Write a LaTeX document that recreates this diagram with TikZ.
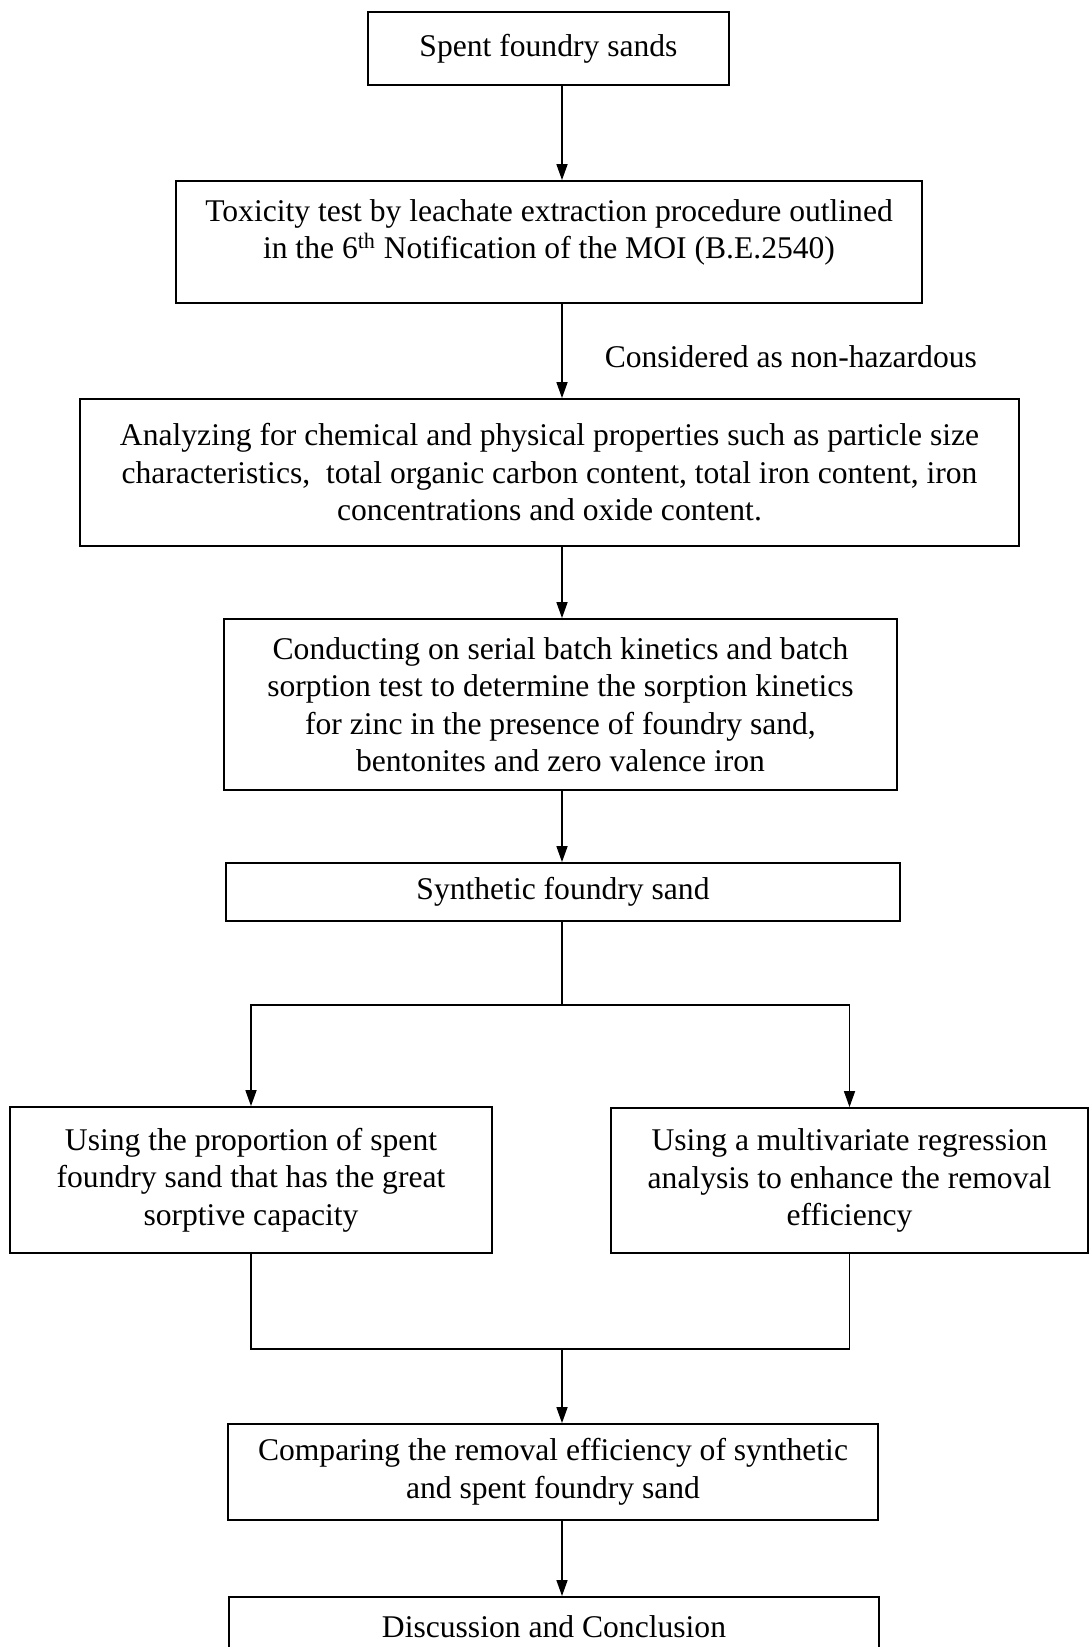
\documentclass[tikz,border=0pt]{standalone}
\usepackage{fontspec}
\setmainfont{Liberation Serif}
\usetikzlibrary{arrows.meta}
\newcommand{\boxfont}{\fontsize{15.8pt}{18.75pt}\selectfont}
\tikzset{
    box/.style={draw, line width=0.9pt, align=center, inner sep=0pt, font=\boxfont},
    >={Triangle[length=8pt,width=5.5pt]},
}
\begin{document}
\begin{tikzpicture}[x=0.5pt, y=-0.5pt, line width=0.8pt]
    \useasboundingbox (0,0) rectangle (1089,1647);
    \clip (0,0) rectangle (1089,1647);
    \coordinate (spine) at (562,0);
    \node[box, minimum width=180.5pt, minimum height=36.5pt] (spent) at (548.5,48.5) {Spent foundry sands};
    \node[box, minimum width=373pt, minimum height=61pt] (toxic) at (549,242) {Toxicity test by leachate extraction procedure outlined\\in the 6\textsuperscript{th} Notification of the MOI (B.E.2540)\\[-6pt]};
    \node[box, minimum width=469.5pt, minimum height=73.5pt] (props) at (549.5,472.5) {Analyzing for chemical and physical properties such as particle size\\characteristics,\ \ total organic carbon content, total iron content, iron\\concentrations and oxide content.};
    \node[box, minimum width=336.5pt, minimum height=85.5pt] (kinet) at (560.5,704.5) {Conducting on serial batch kinetics and batch\\sorption test to determine the sorption kinetics\\for zinc in the presence of foundry sand,\\bentonites and zero valence iron};
    \node[box, minimum width=337pt, minimum height=29pt] (synth) at (563,892) {Synthetic foundry sand};
    \node[box, minimum width=241pt, minimum height=73pt] (propn) at (251,1180) {Using the proportion of spent\\foundry sand that has the great\\sorptive capacity};
    \node[box, minimum width=238.5pt, minimum height=72.5pt] (regr) at (849.5,1180.5) {Using a multivariate regression\\analysis to enhance the removal\\efficiency};
    \node[box, minimum width=325pt, minimum height=48pt] (comp) at (553,1472) {Comparing the removal efficiency of synthetic\\and spent foundry sand};
    \node[box, minimum width=325pt, minimum height=30pt, anchor=north] (concl) at (554,1596) {Discussion and Conclusion};
    \node[font=\boxfont, anchor=west, inner sep=0pt] (nonhaz) at (604,357) {Considered as non-hazardous};
    \coordinate (split) at (562,1005);
    \coordinate (merge) at (562,1349);
    % main line
    \draw[->] (spent.south -| spine) -- (toxic.north -| spine);
    \draw[->] (toxic.south -| spine) -- (props.north -| spine);
    \draw[->] (props.south -| spine) -- (kinet.north -| spine);
    \draw[->] (kinet.south -| spine) -- (synth.north -| spine);
    % two ways
    \draw (synth.south -| spine) -- (split);
    \draw[->] (split) -| (propn.north);
    \draw[->] (split) -| (regr.north);
    \draw (propn.south) |- (merge) -| (regr.south);
    \draw[->] (merge) -- (comp.north -| merge);
    \draw[->] (comp.south -| spine) -- (concl.north -| spine);
\end{tikzpicture}
\end{document}
